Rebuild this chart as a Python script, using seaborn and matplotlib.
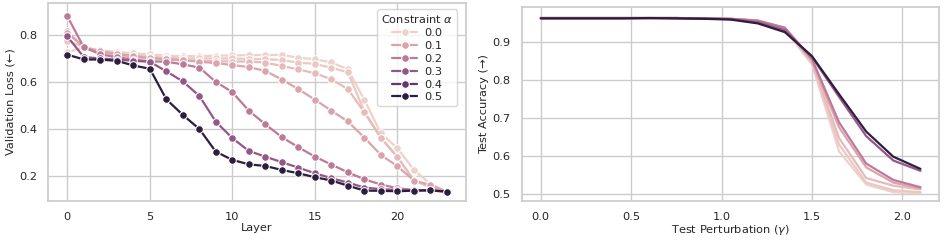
import matplotlib
matplotlib.use("Agg")
import matplotlib.pyplot as plt
import numpy as np
import pandas as pd
import seaborn as sns

# constraint strengths (hue levels)
alphas = [0.0, 0.02, 0.05, 0.1, 0.2, 0.3, 0.5]

# left panel: validation loss per layer
layers = list(range(24))
loss_a00 = [0.726, 0.748, 0.735, 0.728, 0.722, 0.717, 0.712, 0.710, 0.710, 0.712, 0.713, 0.714,
            0.715, 0.715, 0.703, 0.697, 0.683, 0.654, 0.523, 0.380, 0.317, 0.224, 0.164, 0.130]
loss_a02 = [0.776, 0.748, 0.725, 0.718, 0.712, 0.708, 0.703, 0.700, 0.700, 0.700, 0.700, 0.698,
            0.697, 0.693, 0.682, 0.677, 0.660, 0.641, 0.473, 0.362, 0.281, 0.179, 0.153, 0.130]
loss_a05 = [0.816, 0.748, 0.720, 0.712, 0.705, 0.700, 0.695, 0.692, 0.690, 0.688, 0.687, 0.687,
            0.682, 0.668, 0.653, 0.637, 0.611, 0.569, 0.470, 0.360, 0.278, 0.180, 0.150, 0.130]
loss_a10 = [0.810, 0.748, 0.730, 0.720, 0.710, 0.703, 0.697, 0.692, 0.686, 0.680, 0.672, 0.663,
            0.647, 0.610, 0.569, 0.524, 0.477, 0.431, 0.362, 0.288, 0.240, 0.179, 0.160, 0.131]
loss_a20 = [0.880, 0.748, 0.718, 0.705, 0.695, 0.688, 0.686, 0.675, 0.661, 0.600, 0.556, 0.477,
            0.419, 0.364, 0.321, 0.281, 0.247, 0.214, 0.184, 0.162, 0.146, 0.139, 0.136, 0.132]
loss_a30 = [0.794, 0.706, 0.700, 0.695, 0.690, 0.686, 0.645, 0.602, 0.540, 0.430, 0.360, 0.305,
            0.281, 0.257, 0.234, 0.210, 0.189, 0.170, 0.149, 0.142, 0.139, 0.137, 0.137, 0.131]
loss_a50 = [0.716, 0.696, 0.695, 0.690, 0.670, 0.656, 0.526, 0.459, 0.399, 0.302, 0.267, 0.248,
            0.241, 0.224, 0.210, 0.193, 0.179, 0.157, 0.136, 0.135, 0.133, 0.136, 0.137, 0.132]

# right panel: test accuracy vs perturbation
gammas = [0.0, 0.15, 0.3, 0.45, 0.6, 0.75, 0.9, 1.05, 1.2, 1.35, 1.5, 1.65, 1.8, 1.95, 2.1]
acc_a00 = [0.962, 0.962, 0.962, 0.962, 0.962, 0.962, 0.961, 0.960, 0.955, 0.932, 0.840, 0.612,
           0.525, 0.505, 0.502]
acc_a02 = [0.962, 0.962, 0.962, 0.962, 0.962, 0.962, 0.961, 0.960, 0.955, 0.933, 0.845, 0.630,
           0.530, 0.510, 0.505]
acc_a05 = [0.962, 0.962, 0.962, 0.962, 0.962, 0.962, 0.961, 0.960, 0.956, 0.935, 0.848, 0.647,
           0.542, 0.522, 0.512]
acc_a10 = [0.962, 0.962, 0.962, 0.962, 0.962, 0.962, 0.961, 0.960, 0.955, 0.935, 0.850, 0.675,
           0.570, 0.530, 0.515]
acc_a20 = [0.962, 0.962, 0.962, 0.962, 0.962, 0.962, 0.961, 0.960, 0.955, 0.937, 0.855, 0.688,
           0.580, 0.537, 0.518]
acc_a30 = [0.962, 0.962, 0.962, 0.962, 0.962, 0.962, 0.961, 0.959, 0.951, 0.930, 0.860, 0.755,
           0.652, 0.588, 0.561]
acc_a50 = [0.961, 0.961, 0.961, 0.961, 0.962, 0.961, 0.960, 0.958, 0.948, 0.925, 0.862, 0.762,
           0.664, 0.598, 0.566]

loss_series = [loss_a00, loss_a02, loss_a05, loss_a10, loss_a20, loss_a30, loss_a50]
acc_series = [acc_a00, acc_a02, acc_a05, acc_a10, acc_a20, acc_a30, acc_a50]

df_loss = pd.concat([
    pd.DataFrame({"layer": layers, "loss": vals, "alpha": a})
    for a, vals in zip(alphas, loss_series)
], ignore_index=True)
df_acc = pd.concat([
    pd.DataFrame({"gamma": gammas, "acc": vals, "alpha": a})
    for a, vals in zip(alphas, acc_series)
], ignore_index=True)

sns.set_theme(style="whitegrid")
plt.rcParams["font.family"] = ["DejaVu Sans"]

fig = plt.figure(figsize=(9.47, 2.45), dpi=100)
ax1 = fig.add_axes([0.051, 0.180, 0.441, 0.809])
ax2 = fig.add_axes([0.551, 0.180, 0.441, 0.793])

fs = 8.2

sns.lineplot(data=df_loss, x="layer", y="loss", hue="alpha", marker="o",
             markersize=5.5, linewidth=1.6, ax=ax1)
ax1.set_xlabel("Layer", fontsize=fs, labelpad=1)
ax1.set_ylabel("Validation Loss (←)", fontsize=fs, labelpad=2.5)
ax1.tick_params(axis="both", labelsize=fs, pad=2)
ax1.set_xticks([0, 5, 10, 15, 20])
ax1.set_yticks([0.2, 0.4, 0.6, 0.8])
ax1.set_ylim(0.092, 0.938)
sns.move_legend(ax1, "upper right", title="Constraint $\\alpha$", fontsize=fs,
                title_fontsize=fs, labelspacing=0.25, handlelength=2.2,
                borderpad=0.35, handletextpad=0.6, bbox_to_anchor=(0.993, 0.995),
                frameon=True)

sns.lineplot(data=df_acc, x="gamma", y="acc", hue="alpha", linewidth=1.6,
             legend=False, ax=ax2)
ax2.set_xlabel("Test Perturbation ($\\gamma$)", fontsize=fs, labelpad=1)
ax2.set_ylabel("Test Accuracy (→)", fontsize=fs, labelpad=2.5)
ax2.tick_params(axis="both", labelsize=fs, pad=2)
ax2.set_xticks([0.0, 0.5, 1.0, 1.5, 2.0])
ax2.set_yticks([0.5, 0.6, 0.7, 0.8, 0.9])
ax2.set_ylim(0.482, 0.992)

fig.savefig("out.png", dpi=100)
